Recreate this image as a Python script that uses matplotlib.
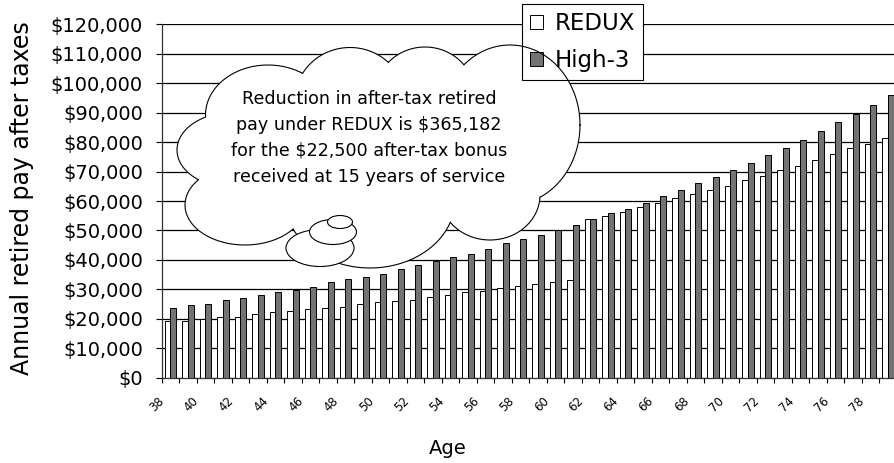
import numpy as np
import matplotlib
matplotlib.use('Agg')
import matplotlib.pyplot as plt
from matplotlib.patches import Ellipse
from matplotlib.ticker import FuncFormatter, FixedLocator, MultipleLocator

plt.rcParams['font.family'] = ['DejaVu Sans']

# data
ages = list(range(38, 80))
redux = [19300, 19300, 20000, 20600, 20600, 21500, 22200, 22600, 23200, 23700,
         24100, 25100, 25600, 26000, 26500, 27500, 28000, 29000, 29300, 30500,
         31000, 31900, 32400, 33300, 53900, 54900, 56300, 57900, 59300, 60900,
         62400, 63900, 65200, 67200, 68600, 70500, 72000, 73900, 76000, 77900,
         79400, 81400]
high3 = [23600, 24600, 25100, 26500, 27100, 28000, 29000, 29900, 30900, 32400,
         33400, 34300, 35300, 36800, 38200, 39700, 41100, 42100, 43700, 45600,
         47000, 48500, 50000, 52000, 53900, 56000, 57300, 59300, 61800, 63800,
         66100, 68100, 70500, 73000, 75500, 77900, 80700, 83700, 86700, 89700,
         92700, 96000]
series_names = ['REDUX', 'High-3']
note = ("Reduction in after-tax retired\n"
        "pay under REDUX is $365,182\n"
        "for the $22,500 after-tax bonus\n"
        "received at 15 years of service")

W, H = 894, 463
fig = plt.figure(figsize=(W / 100, H / 100), dpi=100)
ax = fig.add_axes([161.7 / W, (H - 377.7) / H, 735 / W, 353.4 / H])

x = np.arange(len(ages))
bw = 0.335
b1 = ax.bar(x - bw / 2, redux, bw, color='white', edgecolor='black', linewidth=0.7, zorder=2)
b2 = ax.bar(x + bw / 2, high3, bw, color='#737373', edgecolor='black', linewidth=0.7, zorder=2)

ax.set_xlim(-0.5, len(ages) - 0.5)
ax.set_ylim(0, 120000)
ax.yaxis.set_major_locator(MultipleLocator(10000))
ax.yaxis.set_major_formatter(FuncFormatter(lambda v, p: '${:,.0f}'.format(v)))
ax.yaxis.grid(True, color='black', linewidth=0.9)
ax.set_axisbelow(True)

# ticks on category boundaries, label every second age
bounds = np.arange(len(ages) + 1) - 0.5
ax.xaxis.set_major_locator(FixedLocator(bounds))
labels = [str(a) if (a - ages[0]) % 2 == 0 else '' for a in ages] + ['']
ax.set_xticklabels(labels)
ax.tick_params(axis='x', length=3.6, width=0.8, pad=12.0, labelsize=8.5)
ax.tick_params(axis='y', length=4.5, width=0.8, pad=9, labelsize=14)
for lab in ax.get_xticklabels():
    lab.set_rotation(45)
    lab.set_rotation_mode('anchor')
    lab.set_ha('right')
    lab.set_va('center')

for s in ['top', 'right']:
    ax.spines[s].set_visible(False)
for s in ['left', 'bottom']:
    ax.spines[s].set_color('#333333')
    ax.spines[s].set_linewidth(0.9)

fig.text(22 / W, 1 - 198 / H, 'Annual retired pay after taxes', rotation=90,
         ha='center', va='center', fontsize=17)
fig.text(448 / W, 1 - 449 / H, 'Age', ha='center', va='center', fontsize=14)

# overlay in pixel units for the cloud callout and legend
ov = fig.add_axes([0, 0, 1, 1], zorder=5)
ov.set_xlim(0, W)
ov.set_ylim(H, 0)
ov.axis('off')

bumps = [
    (268, 115, 125, 100),
    (350, 100, 110, 105),
    (425, 95, 100, 96),
    (510, 125, 140, 160),
    (490, 195, 100, 90),
    (370, 200, 170, 136),
    (245, 205, 120, 80),
    (232, 150, 110, 75),
]
filler = (375, 150, 330, 160)


def inside(px, py, e):
    cx, cy, w, h = e
    return ((px - cx) / (w / 2)) ** 2 + ((py - cy) / (h / 2)) ** 2 < 1


for e in bumps + [filler]:
    ov.add_patch(Ellipse((e[0], e[1]), e[2], e[3], facecolor='white',
                         edgecolor='none', zorder=1))
t = np.linspace(0, 2 * np.pi, 721)
for i, e in enumerate(bumps):
    px = e[0] + e[2] / 2 * np.cos(t)
    py = e[1] + e[3] / 2 * np.sin(t)
    mask = np.zeros_like(t, dtype=bool)
    for j, o in enumerate(bumps + [filler]):
        if j != i:
            mask |= inside(px, py, o)
    py = np.where(mask, np.nan, py)
    ov.plot(px, py, color='black', linewidth=0.8, zorder=6)

for cx, cy, w, h in [(320, 248, 68, 37), (333, 232, 47, 25), (340, 222, 25, 13)]:
    ov.add_patch(Ellipse((cx, cy), w, h, facecolor='white', edgecolor='black',
                         linewidth=0.8, zorder=7))

ov.text(369, 138, note, ha='center', va='center', fontsize=12.6,
        linespacing=1.55, zorder=8)

leg = ov.legend([b1, b2], series_names, loc='upper left', bbox_to_anchor=(522, 4),
                bbox_transform=ov.transData, borderaxespad=0, fontsize=16.5,
                handlelength=0.57, handleheight=0.57, handletextpad=0.5,
                labelspacing=0.62, borderpad=0.35, fancybox=False, framealpha=1)
leg.get_frame().set_edgecolor('black')
leg.get_frame().set_linewidth(0.8)
leg.set_zorder(4)

fig.savefig('out.png', dpi=100)
